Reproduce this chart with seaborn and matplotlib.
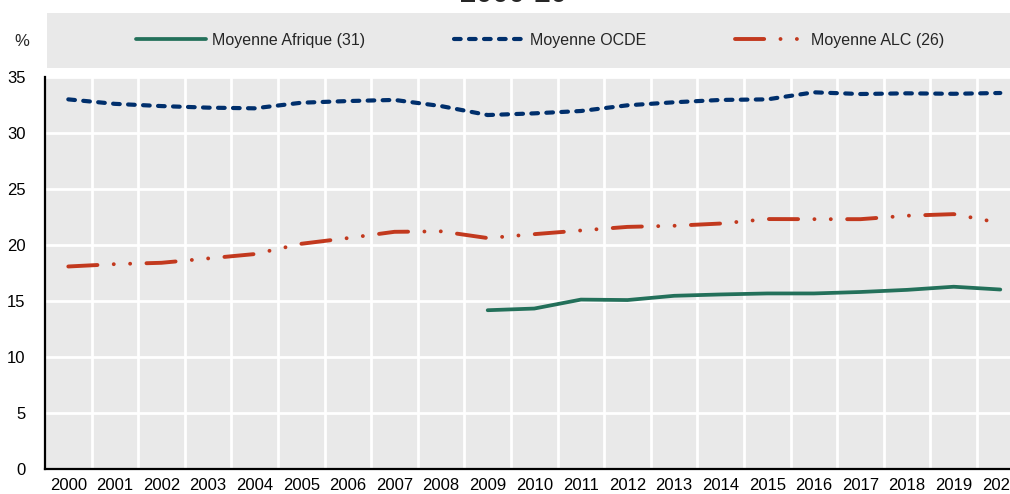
import matplotlib
matplotlib.use("Agg")
import matplotlib.pyplot as plt
from matplotlib.patches import Rectangle
from matplotlib.ticker import FixedLocator
import numpy as np
import pandas as pd
import seaborn as sns

# ---- data ----
years = list(range(2000, 2021))
afrique = [np.nan]*9 + [14.15, 14.3, 15.1, 15.06, 15.44, 15.56, 15.65, 15.65, 15.78, 15.97, 16.25, 16.0]
ocde = [33.0, 32.6, 32.4, 32.26, 32.2, 32.7, 32.85, 32.95, 32.4, 31.6,
        31.75, 31.96, 32.47, 32.74, 32.95, 33.0, 33.63, 33.48, 33.54, 33.5, 33.57]
alc = [18.06, 18.27, 18.39, 18.78, 19.17, 20.09, 20.6, 21.16, 21.2, 20.6,
       20.95, 21.28, 21.6, 21.7, 21.9, 22.3, 22.29, 22.29, 22.6, 22.74, 21.95]
labels = ["Moyenne Afrique (31)", "Moyenne OCDE", "Moyenne ALC (26)"]
yticks = [0, 5, 10, 15, 20, 25, 30, 35]
title = "2000-20"

df = pd.DataFrame({"year": years, labels[0]: afrique, labels[1]: ocde, labels[2]: alc})

sns.set_theme(style="white")
plt.rcParams["font.family"] = ["Liberation Sans", "DejaVu Sans"]
plt.rcParams["lines.dash_capstyle"] = "round"
plt.rcParams["lines.solid_capstyle"] = "round"

W, H = 1010, 494
fig = plt.figure(figsize=(W/100, H/100), dpi=100)
fig.patch.set_facecolor("white")

# legend band (drawn beneath everything)
fig.patches.append(Rectangle((47/W, 1-68/H), (1040-47)/W, 55/H, transform=fig.transFigure,
                             facecolor="#e9e9e9", edgecolor="none", zorder=-5))

ax = fig.add_axes([45/W, 25.5/H, 21*46.6/W, 391.5/H])
ax.set_facecolor("#e9e9e9")

green = "#23705a"
navy = "#002f6c"
red = "#c2391e"

sns.lineplot(data=df, x="year", y=labels[0], ax=ax, color=green, lw=2.7, label=labels[0])
sns.lineplot(data=df, x="year", y=labels[1], ax=ax, color=navy, lw=3.0,
             linestyle=(0, (1.6, 2.0)), label=labels[1])
sns.lineplot(data=df, x="year", y=labels[2], ax=ax, color=red, lw=2.8,
             linestyle=(0, (7.5, 4.2, 0.01, 4.2, 0.01, 4.2)), label=labels[2])

ax.set_xlim(1999.5, 2020.5)
ax.set_ylim(0, 35)
ax.set_xlabel("")
ax.set_ylabel("")

ax.set_xticks(years)
ax.set_xticklabels([str(y) for y in years])
ax.xaxis.set_minor_locator(FixedLocator([y + 0.5 for y in years[:-1]]))
ax.set_yticks(yticks)
ax.set_yticklabels([str(v) for v in yticks])

fs = 12
ax.tick_params(axis="x", which="major", length=0, pad=7, labelsize=fs, colors="black")
ax.tick_params(axis="x", which="minor", length=5, width=1.5, direction="in", color="black")
ax.tick_params(axis="y", which="major", length=5, width=1.5, direction="in", pad=14,
               labelsize=fs, colors="black")
ax.tick_params(axis="y", which="minor", length=0)

ax.grid(False)
ax.grid(True, axis="y", which="major", color="white", lw=2)
ax.grid(True, axis="x", which="minor", color="white", lw=2)
for s in ["top", "right"]:
    ax.spines[s].set_visible(False)
for s in ["left", "bottom"]:
    ax.spines[s].set_color("black")
    ax.spines[s].set_linewidth(1.6)

h, l = ax.get_legend_handles_labels()
lfs = 11.5
px = lfs * 100 / 72
leg = ax.legend(h, l, loc="center left", bbox_to_anchor=(136/W, 1-40.5/H),
                bbox_transform=fig.transFigure, ncol=3, frameon=False, fontsize=lfs,
                handlelength=70/px, handletextpad=6/px, columnspacing=89/px,
                borderpad=0, borderaxespad=0)
leg.set_zorder(10)

fig.text(22/W, 1-42/H, "%", ha="center", va="center", fontsize=fs)
fig.text(513/W, 1-1.5/H, title, ha="center", va="baseline", fontsize=21, fontweight="bold")

fig.savefig("out.png", dpi=100)
